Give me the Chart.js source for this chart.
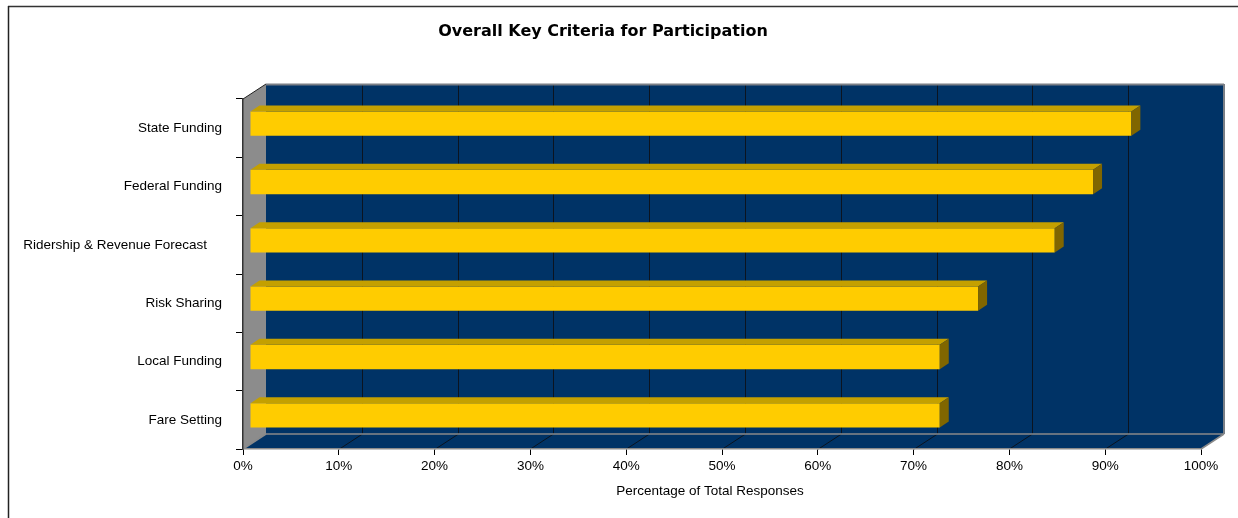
<!DOCTYPE html>
<html>
<head>
<meta charset="utf-8">
<script src="https://cdn.jsdelivr.net/npm/chart.js@4"></script>
<style>
  html, body { margin: 0; padding: 0; background: #fff; }
  #wrap { width: 1238px; height: 518px; position: relative; }
</style>
</head>
<body>
<div id="wrap"><canvas id="myChart" width="1238" height="518"></canvas></div>
<script>
// data (share of 25 responses)
const categories = [
  "State Funding",
  "Federal Funding",
  "Ridership & Revenue Forecast    ",
  "Risk Sharing",
  "Local Funding",
  "Fare Setting"
];
const values = [92, 88, 84, 76, 72, 72];
const xTickValues = [0, 10, 20, 30, 40, 50, 60, 70, 80, 90, 100];
const chartTitle = "Overall Key Criteria for Participation";
const xTitle = "Percentage of Total Responses";

// fake 3d look
const depth = { dx: 23, dy: -15 };
const barShift = { x: 7, y: -4.5 };
const barDepth = { x: 9, y: -6 };

function quad(ctx, pts, fill) {
  ctx.beginPath();
  ctx.moveTo(pts[0][0], pts[0][1]);
  for (let i = 1; i < pts.length; i++) ctx.lineTo(pts[i][0], pts[i][1]);
  ctx.closePath();
  ctx.fillStyle = fill;
  ctx.fill();
}
function line(ctx, x1, y1, x2, y2, color, w) {
  ctx.beginPath();
  ctx.moveTo(x1, y1);
  ctx.lineTo(x2, y2);
  ctx.strokeStyle = color;
  ctx.lineWidth = w || 1;
  ctx.stroke();
}

const box3d = {
  id: "box3d",
  beforeDraw(chart) {
    const ctx = chart.ctx;
    const { left, right, top, bottom } = chart.chartArea;
    const x = chart.scales.x;
    const dx = depth.dx, dy = depth.dy;
    ctx.save();
    // outer frame
    line(ctx, 8, 6.5, chart.width, 6.5, "#333", 1.5);
    line(ctx, 8.5, 6, 8.5, chart.height, "#222", 1.5);
    // back wall
    quad(ctx, [[left + dx, top + dy], [right + dx, top + dy], [right + dx, bottom + dy], [left + dx, bottom + dy]], "#003366");
    // floor
    quad(ctx, [[left, bottom], [right, bottom], [right + dx, bottom + dy], [left + dx, bottom + dy]], "#003366");
    // side wall
    quad(ctx, [[left, top], [left + dx, top + dy], [left + dx, bottom + dy], [left, bottom]], "#8c8c8c");
    // grid on back wall and floor
    xTickValues.forEach(function (v) {
      if (v === xTickValues[0] || v === xTickValues[xTickValues.length - 1]) return;
      const px = Math.round(x.getPixelForValue(v)) + 0.5;
      line(ctx, px + dx, top + dy, px + dx, bottom + dy, "#0b1420", 1);
      line(ctx, px, bottom, px + dx, bottom + dy, "#0b1420", 1);
    });
    // edges
    line(ctx, left + dx, top + dy + 0.5, right + dx, top + dy + 0.5, "#7a7f86", 2);
    line(ctx, right + dx, top + dy, right + dx, bottom + dy, "#7a7f86", 2);
    line(ctx, left + dx, bottom + dy, right + dx, bottom + dy, "#8a8a8a", 1.5);
    line(ctx, right, bottom, right + dx, bottom + dy, "#8a8a8a", 1.5);
    line(ctx, left, bottom, left + dx, bottom + dy, "#8a8a8a", 1.5);
    line(ctx, left, top, left + dx, top + dy, "#222", 1);
    ctx.restore();
  },
  beforeDatasetsDraw(chart) {
    chart.ctx.save();
    chart.ctx.translate(barShift.x, barShift.y);
  },
  afterDatasetsDraw(chart) {
    const ctx = chart.ctx;
    ctx.restore();
    const meta = chart.getDatasetMeta(0);
    meta.data.forEach(function (el) {
      const p = el.getProps(["x", "y", "base", "height"], true);
      const x0 = p.base + barShift.x, x1 = p.x + barShift.x;
      const yt = p.y - p.height / 2 + barShift.y, yb = p.y + p.height / 2 + barShift.y;
      quad(ctx, [[x0, yt], [x0 + barDepth.x, yt + barDepth.y], [x1 + barDepth.x, yt + barDepth.y], [x1, yt]], "#c4a000");
      quad(ctx, [[x1, yt], [x1 + barDepth.x, yt + barDepth.y], [x1 + barDepth.x, yb + barDepth.y], [x1, yb]], "#806600");
    });
  },
  afterDraw(chart) {
    const ctx = chart.ctx;
    ctx.save();
    ctx.fillStyle = "#000";
    ctx.textAlign = "center";
    ctx.textBaseline = "middle";
    ctx.font = 'bold 16px "DejaVu Sans", Verdana, sans-serif';
    ctx.fillText(chartTitle, 603, 32);
    ctx.font = '13.5px "Liberation Sans", Arial, sans-serif';
    ctx.fillText(xTitle, 710, 491);
    ctx.restore();
  }
};

Chart.defaults.font.family = '"Liberation Sans", Arial, sans-serif';
Chart.defaults.font.size = 13.5;
Chart.defaults.color = "#000";

new Chart("myChart", {
  type: "bar",
  data: {
    labels: categories,
    datasets: [{
      data: values,
      backgroundColor: "#ffcc00",
      borderWidth: 0,
      barPercentage: 0.417,
      categoryPercentage: 1,
      clip: false
    }]
  },
  options: {
    indexAxis: "y",
    responsive: false,
    animation: false,
    layout: { padding: { top: 99, right: 37, left: 0, bottom: 0 } },
    plugins: {
      legend: { display: false },
      title: { display: false },
      tooltip: { enabled: false }
    },
    scales: {
      x: {
        min: 0,
        max: 100,
        afterBuildTicks(scale) {
          scale.ticks = xTickValues.map(v => ({ value: v }));
        },
        ticks: { callback: v => v + "%", padding: 3, maxRotation: 0 },
        grid: { drawOnChartArea: false, drawTicks: true, tickLength: 6, color: "#000" },
        border: { color: "#8a8a8a", width: 1.5 },
        afterFit(scale) { scale.height = 69; }
      },
      y: {
        ticks: { padding: 14 },
        grid: { drawOnChartArea: false, drawTicks: true, tickLength: 7, color: "#000", offset: true },
        border: { color: "#333", width: 1.5 },
        afterFit(scale) { scale.width = 243; }
      }
    }
  },
  plugins: [box3d]
});
</script>
</body>
</html>
